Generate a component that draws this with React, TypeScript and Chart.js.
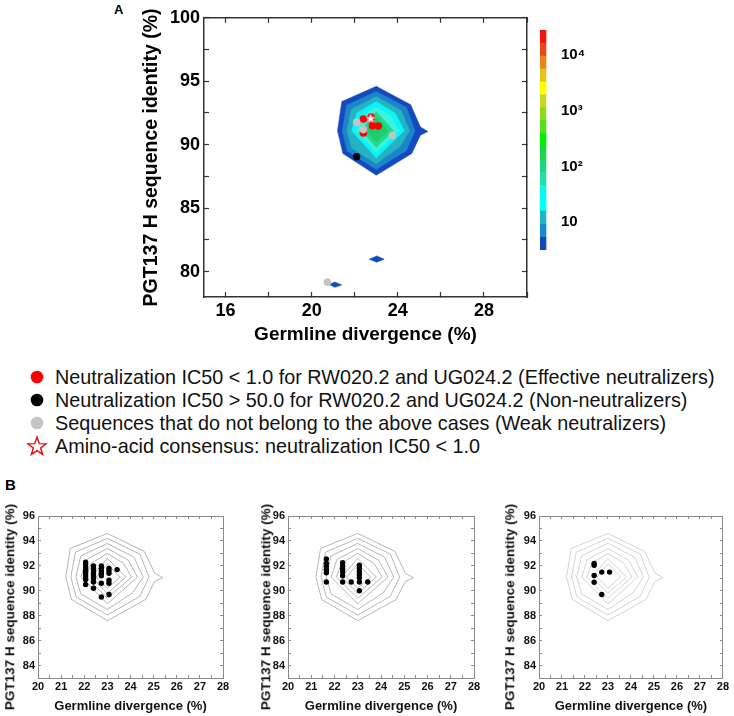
import React, { useEffect, useRef } from 'react';
import { Chart, registerables } from 'chart.js';

Chart.register(...registerables);

const FONT = '"Liberation Sans", Arial, Helvetica, sans-serif';

// ---------------- Panel A: ticks ----------------
const aXTicks = [16, 18, 20, 22, 24, 26, 28, 30];
const aXTickLabels = ['16', '', '20', '', '24', '', '28', ''];
const aYTicks = [80, 82.5, 85, 87.5, 90, 92.5, 95, 97.5, 100];
const aYTickLabels = ['80', '', '85', '', '90', '', '95', '', '100'];

// ---------------- Panel A: sequences ----------------
const effectiveX = [22.4, 22.76, 22.82, 23.1, 22.4];
const effectiveY = [92.02, 92.17, 91.5, 91.47, 90.93];
const nonNeutralizerX = [22.09];
const nonNeutralizerY = [89.05];
const weakX = [22.09, 22.4, 23.75, 20.73];
const weakY = [91.76, 91.19, 90.72, 79.17];
const consensusX = [22.74];
const consensusY = [92.1];

// ---------------- density contours (outer -> inner), [x, y] ----------------
const contour1 = [[23.0, 94.6], [24.6, 93.15], [25.05, 91.4], [25.4, 91.05], [25.05, 90.75], [24.65, 89.3], [23.0, 87.6], [21.45, 89.3], [21.2, 91.1], [21.4, 93.4], [23.0, 94.6]];
const contour2 = [[23.0, 94.2], [24.4, 92.95], [24.8, 91.1], [24.4, 89.55], [23.0, 88.05], [21.65, 89.5], [21.42, 91.1], [21.62, 93.1], [23.0, 94.2]];
const contour3 = [[23.0, 93.8], [24.15, 92.7], [24.55, 91.1], [24.1, 89.85], [23.0, 88.5], [21.85, 89.75], [21.64, 91.1], [21.85, 92.8], [23.0, 93.8]];
const contour4 = [[23.0, 93.4], [23.9, 92.45], [24.3, 91.1], [23.0, 88.95], [21.86, 91.1], [22.1, 92.5], [23.0, 93.4]];
const contour5 = [[23.0, 93.0], [23.7, 92.2], [24.05, 91.1], [23.0, 89.4], [22.08, 91.1], [22.3, 92.2], [23.0, 93.0]];
const contour6 = [[23.0, 92.6], [23.8, 91.1], [23.0, 89.8], [22.3, 91.1], [23.0, 92.6]];
const contour7 = [[23.0, 92.15], [23.55, 91.1], [23.0, 90.2], [22.52, 91.1], [23.0, 92.15]];
const isolatedBlob1 = [[22.67, 80.98], [23.02, 81.24], [23.37, 80.98], [23.02, 80.74], [22.67, 80.98]];
const isolatedBlob2 = [[20.8, 78.98], [21.08, 79.18], [21.4, 78.94], [21.08, 78.76], [20.8, 78.98]];
const contours = [contour1, contour2, contour3, contour4, contour5, contour6, contour7];
const contourFills = ['#1449bf', '#1c85c9', '#25b3c4', '#0af5f5', '#3ef2de', '#22d88a', '#1fcd6a'];

// ---------------- colour bar ----------------
const colorbarBounds = [3.2, 5.4, 9.2, 16, 27, 46, 78, 133, 227, 387, 660, 1125, 1920, 3270, 5580, 9500, 16200, 27700];
const colorbarColors = ['#1447be', '#1a8ac9', '#22b6c4', '#00ffff', '#10f6ee', '#22dda6', '#22d47c', '#22d24e', '#00ee00', '#50de22', '#90d822', '#c6d920', '#ffff00', '#e8c21c', '#e6841e', '#e44a18', '#ee1510'];
const colorbarTicks = [10, 100, 1000, 10000];
const colorbarTickLabels = ['10', '10²', '10³', '10⁴'];

// ---------------- legend ----------------
const legendLabels = [
  'Neutralization IC50 < 1.0 for RW020.2 and UG024.2 (Effective neutralizers)',
  'Neutralization IC50 > 50.0 for RW020.2 and UG024.2 (Non-neutralizers)',
  'Sequences that do not belong to the above cases (Weak neutralizers)',
  'Amino-acid consensus: neutralization IC50 < 1.0',
];

// ---------------- Panel B ----------------
const bXTicks = [20, 20.5, 21, 21.5, 22, 22.5, 23, 23.5, 24, 24.5, 25, 25.5, 26, 26.5, 27, 27.5, 28];
const bXTickLabels = ['20', '', '21', '', '22', '', '23', '', '24', '', '25', '', '26', '', '27', '', '28'];
const bYTicks = [84, 85, 86, 87, 88, 89, 90, 91, 92, 93, 94, 95, 96];
const bYTickLabels = ['84', '', '86', '', '88', '', '90', '', '92', '', '94', '', '96'];

const b1X = [22.06, 22.06, 22.06, 22.06, 22.06, 22.06, 22.06, 22.06, 22.06,
  22.4, 22.4, 22.4, 22.4, 22.4, 22.4, 22.4, 22.4,
  22.74, 22.74, 22.74, 22.74, 22.74, 22.74, 22.74,
  23.07, 23.07, 23.07, 23.07, 23.07, 23.07, 23.42];
const b1Y = [92.3, 92.1, 91.9, 91.7, 91.5, 91.3, 91.1, 90.9, 90.5,
  92.0, 91.8, 91.6, 91.4, 91.2, 91.0, 90.7, 90.2,
  92.0, 91.8, 91.6, 91.4, 91.2, 90.6, 89.5,
  91.8, 91.6, 91.4, 90.85, 90.6, 89.7, 91.7];
const b2X = [21.65, 21.65, 21.65, 21.65, 21.65, 21.65,
  22.35, 22.35, 22.35, 22.35, 22.35, 22.35,
  23.07, 23.07, 23.07, 23.07, 23.07, 23.07, 23.07, 22.72, 23.43];
const b2Y = [92.55, 92.2, 91.95, 91.7, 91.45, 90.7,
  92.25, 92.0, 91.75, 91.5, 91.2, 90.7,
  92.05, 91.8, 91.55, 91.3, 91.05, 90.7, 90.0, 90.7, 90.7];
const b3X = [22.4, 22.4, 22.4, 22.4, 22.73, 23.07, 22.73];
const b3Y = [92.2, 92.05, 91.22, 90.68, 91.5, 91.5, 89.7];

// ---------------- helpers ----------------
const toPoints = (xs: number[], ys: number[]) => xs.map((x, i) => ({ x, y: ys[i] }));
const polyPoints = (poly: number[][]) => poly.map((p) => ({ x: p[0], y: p[1] }));
const fixedTicks = (values: number[]) => (scale: any) => {
  scale.ticks = values.map((v) => ({ value: v }));
};
const labelsFrom = (labels: string[]) => (_v: any, i: number) => labels[i];

function makeStarCanvas(size: number, fill: string, stroke: string) {
  const c = document.createElement('canvas');
  c.width = size;
  c.height = size;
  const ctx = c.getContext('2d')!;
  ctx.beginPath();
  for (let i = 0; i < 10; i++) {
    const r = i % 2 === 0 ? size / 2 - 0.5 : size / 5;
    const a = -Math.PI / 2 + (i * Math.PI) / 5;
    ctx.lineTo(size / 2 + r * Math.cos(a), size / 2 + 0.6 + r * Math.sin(a));
  }
  ctx.closePath();
  ctx.fillStyle = fill;
  ctx.fill();
  ctx.lineWidth = 0.6;
  ctx.strokeStyle = stroke;
  ctx.stroke();
  return c;
}

function ChartBox(props: { left: number; top: number; width: number; height: number; make: () => any }) {
  const ref = useRef<HTMLCanvasElement | null>(null);
  useEffect(() => {
    if (!ref.current) return;
    const chart = new Chart(ref.current, props.make());
    return () => chart.destroy();
  }, []);
  const { left, top, width, height } = props;
  return (
    <canvas
      ref={ref}
      width={width}
      height={height}
      style={{ position: 'absolute', left, top, width, height }}
    />
  );
}

const basePlugins = { legend: { display: false }, tooltip: { enabled: false } };

// ---------------- Panel A config ----------------
function makeA() {
  const axisColor = '#333333';
  const tickFont = { family: FONT, size: 18, weight: 'bold' as const };
  const grid = { drawOnChartArea: false, drawTicks: true, tickLength: -5, color: axisColor, tickWidth: 1.2 };
  const border = { display: true, color: axisColor, width: 1.5 };
  const datasets: any[] = [];
  datasets.push({
    label: 'consensus', data: toPoints(consensusX, consensusY), pointStyle: makeStarCanvas(11, '#ffffff', '#ff6060'),
    pointRadius: 5, showLine: false, order: 0,
  });
  datasets.push({
    label: 'non', data: toPoints(nonNeutralizerX, nonNeutralizerY), pointRadius: 3.7, pointBorderWidth: 0,
    pointBackgroundColor: '#000000', showLine: false, order: 1,
  });
  datasets.push({
    label: 'weak', data: toPoints(weakX, weakY), pointRadius: 3.8, pointBorderWidth: 0,
    pointBackgroundColor: '#c4c4c4', showLine: false, order: 2,
  });
  datasets.push({
    label: 'effective', data: toPoints(effectiveX, effectiveY), pointRadius: 3.8, pointBorderWidth: 0,
    pointBackgroundColor: '#ff0000', showLine: false, order: 3,
  });
  contours.forEach((poly, i) => {
    datasets.push({
      label: 'c' + i, data: polyPoints(poly), showLine: true, fill: 'shape', tension: 0,
      backgroundColor: contourFills[i], borderColor: contourFills[i], borderWidth: 0.5,
      pointRadius: 0, order: 20 - i,
    });
  });
  [isolatedBlob1, isolatedBlob2].forEach((poly, i) => {
    datasets.push({
      label: 'blob' + i, data: polyPoints(poly), showLine: true, fill: 'shape', tension: 0,
      backgroundColor: contourFills[0], borderColor: contourFills[0], borderWidth: 0.5,
      pointRadius: 0, order: 30,
    });
  });
  return {
    type: 'scatter',
    data: { datasets },
    options: {
      animation: false, responsive: false, devicePixelRatio: 1,
      layout: { padding: { left: 140, top: 15, right: 73, bottom: 3 } },
      plugins: basePlugins,
      scales: {
        x: {
          type: 'linear', position: 'bottom', min: 15, max: 30,
          afterBuildTicks: fixedTicks(aXTicks),
          ticks: { callback: labelsFrom(aXTickLabels), font: tickFont, color: '#000', padding: 8, autoSkip: false, maxRotation: 0 },
          grid, border,
          title: { display: true, text: 'Germline divergence (%)', color: '#000', font: { family: FONT, size: 19, weight: 'bold', lineHeight: 1.2 }, padding: { top: 0, bottom: 0.6 } },
          afterFit: (s: any) => { s.height = 50; },
        },
        xTop: {
          type: 'linear', axis: 'x', position: 'top', min: 15, max: 30,
          afterBuildTicks: fixedTicks(aXTicks), ticks: { display: false }, grid, border,
          afterFit: (s: any) => { s.height = 0; },
        },
        y: {
          type: 'linear', position: 'left', min: 78, max: 100,
          afterBuildTicks: fixedTicks(aYTicks),
          ticks: { callback: labelsFrom(aYTickLabels), font: tickFont, color: '#000', padding: 9, autoSkip: false },
          grid, border,
          title: { display: true, text: 'PGT137 H sequence identity (%)', color: '#000', font: { family: FONT, size: 19.5, weight: 'bold', lineHeight: 1.2 }, padding: { top: 0, bottom: 0 } },
          afterFit: (s: any) => { s.width = 64; },
        },
        yRight: {
          type: 'linear', axis: 'y', position: 'right', min: 78, max: 100,
          afterBuildTicks: fixedTicks(aYTicks), ticks: { display: false }, grid, border,
          afterFit: (s: any) => { s.width = 0; },
        },
      },
    },
  };
}

// ---------------- colour bar config ----------------
function makeColorbar() {
  const datasets = colorbarColors.map((c, i) => ({
    label: 'seg' + i,
    data: [[colorbarBounds[i], colorbarBounds[i + 1]]],
    backgroundColor: c, borderWidth: 0, grouped: false, barPercentage: 1, categoryPercentage: 1,
  }));
  return {
    type: 'bar',
    data: { labels: [''], datasets },
    options: {
      animation: false, responsive: false, devicePixelRatio: 1,
      layout: { padding: { left: 10, top: 18, right: 0, bottom: 18 } },
      plugins: basePlugins,
      scales: {
        x: { display: false, offset: false },
        y: {
          type: 'logarithmic', position: 'right', min: colorbarBounds[0], max: colorbarBounds[colorbarBounds.length - 1],
          afterBuildTicks: fixedTicks(colorbarTicks),
          ticks: { callback: labelsFrom(colorbarTickLabels), font: { family: FONT, size: 15, weight: 'bold' }, color: '#000', padding: 9, autoSkip: false },
          grid: { display: false, drawTicks: false }, border: { display: false },
          afterFit: (s: any) => { s.width = 58; },
        },
      },
    },
  };
}

// ---------------- Panel B config ----------------
function makeB(xs: number[], ys: number[], lineColor: string, padLeft: number, padRight: number) {
  const axisColor = '#8a8a8a';
  const tickFont = { family: FONT, size: 11, weight: 'bold' as const };
  const grid = { drawOnChartArea: false, drawTicks: true, tickLength: -3, color: axisColor, tickWidth: 1 };
  const border = { display: true, color: axisColor, width: 1 };
  const datasets: any[] = [
    { label: 'pts', data: toPoints(xs, ys), pointRadius: 2.7, pointBorderWidth: 0, pointBackgroundColor: '#000', showLine: false, order: 0 },
  ];
  contours.forEach((poly, i) => {
    datasets.push({
      label: 'c' + i, data: polyPoints(poly), showLine: true, fill: false, tension: 0,
      borderColor: lineColor, borderWidth: 1, pointRadius: 0, order: 10 + i,
    });
  });
  return {
    type: 'scatter',
    data: { datasets },
    options: {
      animation: false, responsive: false, devicePixelRatio: 1,
      layout: { padding: { left: padLeft, top: 26, right: padRight, bottom: 2 } },
      plugins: basePlugins,
      scales: {
        x: {
          type: 'linear', position: 'bottom', min: 20, max: 28,
          afterBuildTicks: fixedTicks(bXTicks),
          ticks: { callback: labelsFrom(bXTickLabels), font: tickFont, color: '#111', padding: 5, autoSkip: false, maxRotation: 0 },
          grid, border,
          title: { display: true, text: 'Germline divergence (%)', color: '#111', font: { family: FONT, size: 13, weight: 'bold', lineHeight: 1.2 }, padding: { top: 0, bottom: 0 } },
          afterFit: (s: any) => { s.height = 36; },
        },
        xTop: {
          type: 'linear', axis: 'x', position: 'top', min: 20, max: 28,
          afterBuildTicks: fixedTicks(bXTicks), ticks: { display: false }, grid, border,
          afterFit: (s: any) => { s.height = 0; },
        },
        y: {
          type: 'linear', position: 'left', min: 83, max: 96,
          afterBuildTicks: fixedTicks(bYTicks),
          ticks: { callback: labelsFrom(bYTickLabels), font: tickFont, color: '#111', padding: 6, autoSkip: false },
          grid, border,
          afterFit: (s: any) => { s.width = 30; },
        },
        yRight: {
          type: 'linear', axis: 'y', position: 'right', min: 83, max: 96,
          afterBuildTicks: fixedTicks(bYTicks), ticks: { display: false }, grid, border,
          afterFit: (s: any) => { s.width = 0; },
        },
      },
    },
  };
}

function LegendMarker({ kind }: { kind: number }) {
  if (kind === 3) {
    const pts: string[] = [];
    for (let i = 0; i < 10; i++) {
      const r = i % 2 === 0 ? 9.5 : 3.9;
      const a = -Math.PI / 2 + (i * Math.PI) / 5;
      pts.push(`${(11 + r * Math.cos(a)).toFixed(2)},${(11.8 + r * Math.sin(a)).toFixed(2)}`);
    }
    return (
      <svg width={22} height={22} viewBox="0 0 22 22">
        <polygon points={pts.join(' ')} fill="#fff" stroke="#e81010" strokeWidth={1.5} strokeLinejoin="miter" />
      </svg>
    );
  }
  const colors = ['#ff0000', '#000000', '#c4c4c4'];
  return (
    <svg width={22} height={22} viewBox="0 0 22 22">
      <circle cx={11} cy={11} r={6.3} fill={colors[kind]} />
    </svg>
  );
}

const yTitleStyle = (cx: number, cy: number): React.CSSProperties => ({
  position: 'absolute', left: cx, top: cy, transform: 'translate(-50%, -50%) rotate(-90deg)',
  whiteSpace: 'nowrap', fontFamily: FONT, fontWeight: 'bold', fontSize: 13.5, color: '#111', lineHeight: 1,
});

export default function App() {
  return (
    <div style={{ position: 'absolute', left: 0, top: 0, width: 734, height: 716, background: '#fff', overflow: 'hidden' }}>
      <div style={{ position: 'absolute', left: 114, top: 2, fontFamily: FONT, fontWeight: 'bold', fontSize: 13 }}>A</div>
      <ChartBox left={0} top={-2} width={600} height={352} make={makeA} />
      <ChartBox left={530} top={12} width={80} height={256} make={makeColorbar} />

      {legendLabels.map((t, i) => (
        <div
          key={i}
          style={{ position: 'absolute', left: 26, top: 377 + i * 23 - 12, height: 24, display: 'flex', alignItems: 'center', whiteSpace: 'nowrap' }}
        >
          <LegendMarker kind={i} />
          <span style={{ marginLeft: 7, fontFamily: FONT, fontSize: 19.8, color: '#111' }}>{t}</span>
        </div>
      ))}

      <div style={{ position: 'absolute', left: 5, top: 476, fontFamily: FONT, fontWeight: 'bold', fontSize: 15 }}>B</div>
      <ChartBox left={0} top={490} width={240} height={226} make={() => makeB(b1X, b1Y, '#b4b4b4', 8, 17)} />
      <ChartBox left={245} top={490} width={245} height={226} make={() => makeB(b2X, b2Y, '#b8b8b8', 13, 16)} />
      <ChartBox left={495} top={490} width={239} height={226} make={() => makeB(b3X, b3Y, '#d4d4d4', 14, 9)} />
      <div style={yTitleStyle(10, 607)}>PGT137 H sequence identity (%)</div>
      <div style={yTitleStyle(266, 607)}>PGT137 H sequence identity (%)</div>
      <div style={yTitleStyle(510, 607)}>PGT137 H sequence identity (%)</div>
    </div>
  );
}
